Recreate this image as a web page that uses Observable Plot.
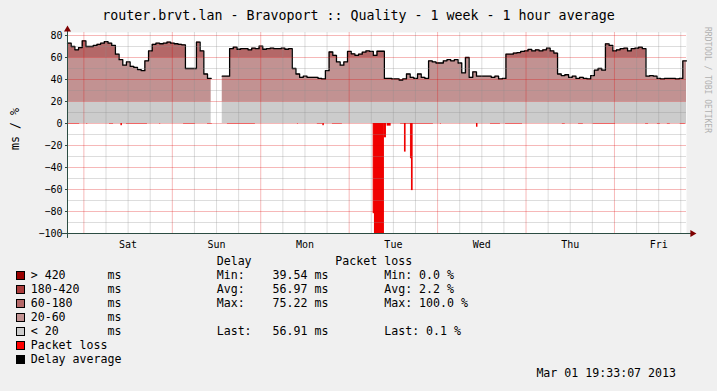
<!DOCTYPE html>
<html><head><meta charset="utf-8">
<script src="https://cdn.jsdelivr.net/npm/d3@7"></script>
<script src="https://cdn.jsdelivr.net/npm/@observablehq/plot@0.6"></script>
<style>
html,body{margin:0;padding:0;background:#f0f0f0;}
#wrap{position:relative;width:717px;height:391px;overflow:hidden;font-family:"DejaVu Sans Mono",monospace;color:#000;}
#wrap svg{position:absolute;left:0;top:0;}
.t{position:absolute;white-space:pre;font-size:11.6px;line-height:14px;}
.sw{position:absolute;width:7px;height:7px;border:1px solid #000;}
</style></head><body><div id="wrap"></div>
<script>
// ---- data ----
const startTime = Date.UTC(2013, 1, 22, 19, 33, 7); // Fri Feb 22 19:33:07 2013
const hours = 168;
// hourly delay average (ms), index 0 = first hour of the window; null = no data
const delayMs = [
  73,70,67,69,75.2,70,70,71,72,73,74.5,73,71,63,58,53,56,52,51,49,48,57,66,72,
  73,72.5,73,74,73,72.5,72,71.5,50,50,50,74,66,45,41,null,null,null,43,43,68,69.5,67.5,68,
  68,67,68.5,68,70.3,67.5,68,68.5,68,68,68.5,67.5,68,50,45,42,43,42,42,42,41,40.5,48,65,
  62,56,53,56,65.5,63.3,62,63,64.8,66,65.5,62,65.7,65.7,41,41,40.5,40.5,39.54,40.5,45,42,41,45,
  42,41,57,56,55,55,57,58,57,58,55,46,60,42,47,43,43,43,43,42,43,40.5,41,63,
  63,64,64.5,65.5,66,67.3,66,67,66,67,68.5,66,64,45,43.6,44.3,42,43,41,42,41,40.5,43.6,48.5,
  50,48.5,72.4,71,66,67,68,68.5,66,68,68.5,69.4,68,43,43.6,43,41,40.5,41,41,41,40.5,41,56.91
];
// packet loss (%) episodes: start hour, end hour, loss
const lossFrom = [0.2,5.2,11.4,14.5,16,25,31.5,38,43.4,62.4,67.8,69.3,71.9,82.96,83.31,86.02,86.76,90.4,91.45,93.08,93.35,101.2,111.0,114.8,118.9,134.3,138.7,142.7,156.9,160.1,162.8,166.3];
const lossTo   = [3.3,5.5,12.5,14.9,21.7,25.3,34.7,39.3,51,62.7,69.2,69.7,74.6,83.31,86.02,86.57,87.84,99.3,91.9,93.35,93.81,101.5,111.4,117.5,123.5,135.1,140,148.7,157.7,160.9,163.6,167.7];
const lossPct  = [0.9,0.9,0.9,2,0.9,0.9,0.9,0.9,0.9,0.9,0.9,2,0.9,82,100,13,2.4,0.9,26,32,61,0.9,3.4,0.9,0.9,0.9,0.9,0.9,0.9,0.9,0.9,0.9];
const yTicks = [-100,-80,-60,-40,-20,0,20,40,60,80];
const dayLabels = ["Sat","Sun","Mon","Tue","Wed","Thu","Fri"];
const bandNames = ["> 420","180-420","60-180","20-60","< 20"];
const bandColors = ["#990000","#ab3c3c","#b46868","#c29292","#cccccc"];
const statsDelay = {Min:"39.54", Avg:"56.97", Max:"75.22", Last:"56.91"};
const statsLoss = {Min:"0.0", Avg:"2.2", Max:"100.0", Last:"0.1"};

// ---- derived ----
const H = 3600e3;
const T = h => new Date(startTime + h * H);
const steps = [];
delayMs.forEach((v, i) => {
  if (v == null) { steps.push({t: T(i), v: NaN}); return; }
  steps.push({t: T(i), v}); steps.push({t: T(i + 1), v});
});
const loss = lossFrom.map((f, i) => ({a: T(f), b: T(lossTo[i]), p: lossPct[i]}));
const day0 = Date.UTC(2013, 1, 23);
const midnights = d3.range(7).map(i => new Date(day0 + i * 24 * H));
const noons = d3.range(7).map(i => new Date(day0 + (i * 24 + 12) * H));
const sixes = d3.range(-1, 28).map(i => new Date(day0 + i * 6 * H)).filter(d => d.getUTCHours() !== 0 && d >= T(0) && d <= T(hours));
const minorY = d3.range(-90, 80, 20);

const axisCol = "#2c4d43";
const def = d => !isNaN(d.v);
const plot = Plot.plot({
  width: 717, height: 250,
  marginLeft: 67, marginRight: 31, marginTop: 32, marginBottom: 17,
  insetTop: 3,
  x: {type: "utc", domain: [T(0), T(hours)], axis: null},
  y: {domain: [-100, 80]},
  style: {fontFamily: "DejaVu Sans Mono", fontSize: "10px", background: "transparent", color: "#000", overflow: "visible"},
  marks: [
    Plot.frame({fill: "#ffffff"}),
    Plot.areaY(steps, {x: "t", y1: d => def(d) ? 0 : NaN, y2: d => def(d) ? 20 : NaN, fill: "#cccccc"}),
    Plot.areaY(steps, {x: "t", y1: d => def(d) ? 20 : NaN, y2: d => def(d) ? Math.min(d.v, 60) : NaN, fill: "#c29292"}),
    Plot.areaY(steps, {x: "t", y1: d => def(d) ? 60 : NaN, y2: d => def(d) ? Math.max(d.v, 60) : NaN, fill: "#b46868"}),
    Plot.rect(loss, {x1: "a", x2: "b", y1: 0, y2: d => -d.p, fill: "#f00000", fillOpacity: d => d.p < 1 ? 0.45 : 1}),
    Plot.line(steps, {x: "t", y: "v", stroke: "#000", strokeWidth: 1.3}),
    Plot.ruleX(sixes, {stroke: "#8f8f8f", strokeOpacity: 0.3}),
    Plot.ruleY(minorY, {stroke: "#8f8f8f", strokeOpacity: 0.3}),
    Plot.ruleX(midnights, {stroke: "#e00000", strokeOpacity: 0.28}),
    Plot.ruleY(yTicks, {stroke: "#e00000", strokeOpacity: 0.28}),
    Plot.axisY({ticks: yTicks, tickSize: 2, tickPadding: 3, label: null, stroke: axisCol}),
    Plot.text(noons, {x: d => d, text: (d, i) => dayLabels[i], frameAnchor: "bottom", dy: 11, lineAnchor: "middle"}),
    Plot.ruleY([-100], {x1: T(-1.4), x2: T(hours + 1.4), stroke: axisCol}),
    Plot.ruleX([T(0)], {y1: -104.5, y2: 84.5, stroke: axisCol}),
    Plot.dot([T(hours + 1.6)], {x: d => d, y: -100, symbol: "triangle", r: 2.6, fill: "#7f0000", rotate: 90}),
    Plot.dot([T(0)], {x: d => d, y: 85.5, symbol: "triangle", r: 2.6, fill: "#7f0000"})
  ]
});
const wrap = document.getElementById("wrap");
wrap.appendChild(plot);

function txt(s, x, baseline, extra) {
  const d = document.createElement("div");
  d.className = "t"; d.textContent = s;
  d.style.left = x + "px"; d.style.top = (baseline - 11) + "px";
  if (extra) Object.assign(d.style, extra);
  wrap.appendChild(d); return d;
}
// title
txt("router.brvt.lan - Bravoport :: Quality - 1 week - 1 hour average", 0, 20.5,
  {width: "717px", textAlign: "center", fontSize: "13.3px", lineHeight: "16px", top: "8px"});
// y label
txt("ms / %", 15, 0, {left: "-6px", top: "122px", width: "42px", textAlign: "center", transform: "rotate(-90deg)", transformOrigin: "21px 7px"});
// watermark
txt("RRDTOOL / TOBI OETIKER", 0, 0, {fontSize: "8px", lineHeight: "10px", color: "#b0b0b0", left: "702px", top: "27px", writingMode: "vertical-rl"});

// legend
const rows = [279.3, 293.3, 307.3, 321.3, 335.3, 349.3, 363.3];
bandNames.forEach((n, i) => {
  const s = document.createElement("div"); s.className = "sw";
  s.style.left = "16px"; s.style.top = (rows[i] - 8.5) + "px"; s.style.background = bandColors[i];
  wrap.appendChild(s);
  txt(n.padEnd(11, " ") + "ms", 30.7, rows[i]);
});
[["Packet loss", "#ff0000"], ["Delay average", "#000000"]].forEach(([n, c], j) => {
  const s = document.createElement("div"); s.className = "sw";
  s.style.left = "16px"; s.style.top = (rows[5 + j] - 8.5) + "px"; s.style.background = c;
  wrap.appendChild(s);
  txt(n, 30.7, rows[5 + j]);
});
txt("Delay            Packet loss", 216.7, 265.2);
const statRows = [["Min", 0], ["Avg", 1], ["Max", 2], ["Last", 4]];
statRows.forEach(([k, r]) => {
  const lab = (k + ":").padEnd(8, " ");
  txt(lab + statsDelay[k] + " ms        " + k + ": " + statsLoss[k] + " %", 216.7, rows[r]);
});
txt("Mar 01 19:33:07 2013", 0, 376.7, {left: "auto", right: "41px"});
</script>
</body></html>
